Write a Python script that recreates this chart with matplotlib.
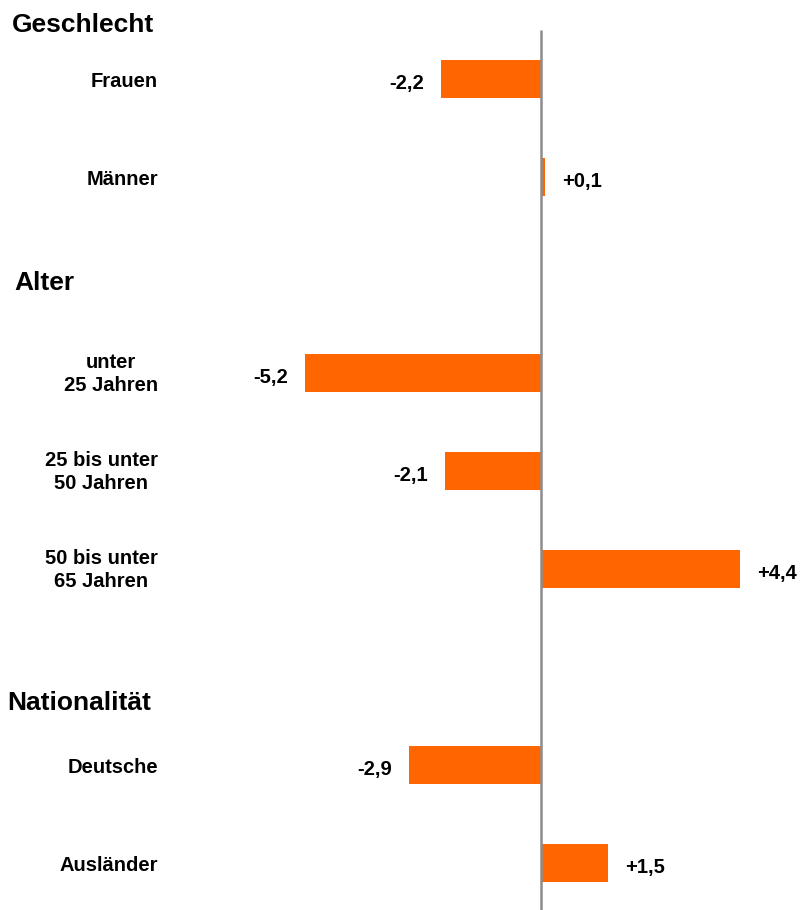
import matplotlib
matplotlib.use("Agg")
import matplotlib.pyplot as plt

plt.rcParams['font.family'] = ['Liberation Sans', 'DejaVu Sans']

# Veränderung gegenüber Vorjahr in Prozent
categories = ["Frauen", "Männer",
              "unter\n25 Jahren", "25 bis unter\n50 Jahren", "50 bis unter\n65 Jahren",
              "Deutsche", "Ausländer"]
values = [-2.2, 0.1, -5.2, -2.1, 4.4, -2.9, 1.5]
# row slot of each category (gaps leave room for group headers)
slots = [0, 1, 3, 4, 5, 7, 8]
groups = ["Geschlecht", "Alter", "Nationalität"]

BAR = "#FF6600"
W, H = 800, 910
px_per_unit = 45.3
zero_px = 540.5
row_px = 98.0
first_row_px = 79.0

fig = plt.figure(figsize=(W / 100, H / 100), dpi=100)
ax = fig.add_axes([0, 0, 1, 1])
ax.set_xlim(-zero_px / px_per_unit, (W - zero_px) / px_per_unit)
ax.set_ylim((H - first_row_px) / row_px, -first_row_px / row_px)
ax.axis("off")

ax.barh(slots, values, height=0.39, color=BAR, zorder=2)

# zero line
ax.plot([0, 0], [(30 - first_row_px) / row_px, (H - first_row_px) / row_px],
        color="#8c8c8c", lw=1.8, zorder=3, solid_capstyle="butt")

gap = 17 / px_per_unit
for s, v, c in zip(slots, values, categories):
    lab = f"{v:+.1f}".replace(".", ",")
    if v < 0:
        ax.text(v - gap, s + 0.03, lab, ha="right", va="center_baseline",
                fontsize=14.5, fontweight="bold")
    else:
        ax.text(v + gap, s + 0.03, lab, ha="left", va="center_baseline",
                fontsize=14.5, fontweight="bold")
    ax.text(158 / W, s + 0.01, c, transform=ax.get_yaxis_transform(), ha="right",
            va="center_baseline" if "\n" not in c else "center",
            multialignment="center", fontsize=14.5, fontweight="bold", linespacing=1.3)

# group headers
for g, (x, y) in zip(groups, [(12, 22), (14, 280), (7, 700)]):
    fig.text(x / W, 1 - y / H, g, ha="left", va="center_baseline", fontsize=19,
             fontweight="bold")

fig.savefig("out.png", dpi=100)
